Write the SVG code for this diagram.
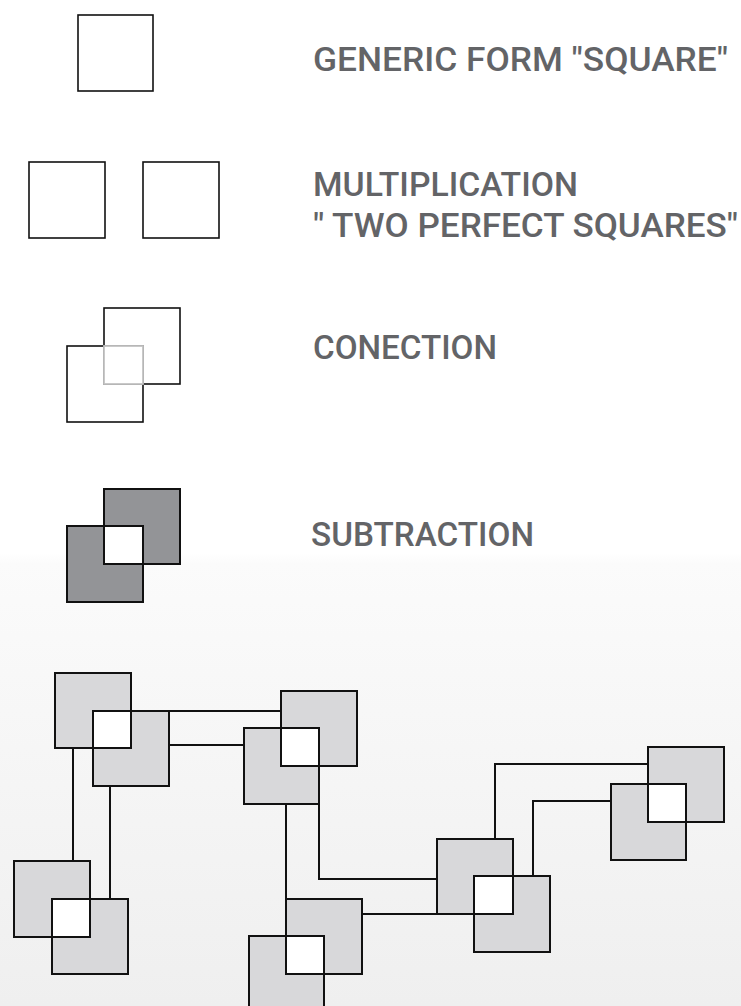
<svg xmlns="http://www.w3.org/2000/svg" width="741" height="1006" viewBox="0 0 741 1006">
<defs>
<linearGradient id="bg" x1="0" y1="0" x2="0" y2="1006" gradientUnits="userSpaceOnUse">
<stop offset="0" stop-color="#ffffff"/>
<stop offset="0.55" stop-color="#ffffff"/>
<stop offset="0.56" stop-color="#fbfbfb"/>
<stop offset="1" stop-color="#efefef"/>
</linearGradient>
</defs>
<style>
.lbl{font-family:Roboto,"Liberation Sans",sans-serif;font-size:33px;font-weight:500;fill:#636467}
.outline{fill:none;stroke:#111;stroke-width:1.6}
.sq{fill:#d8d8da;stroke:#111;stroke-width:2}
.hole{fill:#ffffff;stroke:#111;stroke-width:2}
.sub{fill:#939497;stroke:#111;stroke-width:2}
.conn{fill:none;stroke:#111;stroke-width:2}
</style>
<rect x="0" y="0" width="741" height="1006" fill="url(#bg)"/>

<g id="legend-generic">
<rect class="outline" x="78" y="15" width="75" height="76"/>
<text class="lbl" x="313" y="71" textLength="415" lengthAdjust="spacingAndGlyphs">GENERIC FORM "SQUARE"</text>
</g>

<g id="legend-multiplication">
<rect class="outline" x="29" y="162" width="76" height="76"/>
<rect class="outline" x="143" y="162" width="76" height="76"/>
<text class="lbl" x="313" y="196" textLength="265" lengthAdjust="spacingAndGlyphs">MULTIPLICATION</text>
<text class="lbl" x="313" y="237" textLength="425" lengthAdjust="spacingAndGlyphs">" TWO PERFECT SQUARES"</text>
</g>

<g id="legend-connection">
<rect class="outline" x="104" y="308" width="76" height="76"/>
<rect class="outline" x="67" y="346" width="76" height="76"/>
<rect x="104" y="346" width="39" height="38" fill="#ffffff" stroke="#c4c4c4" stroke-width="1.8"/>
<text class="lbl" x="313" y="359" textLength="184" lengthAdjust="spacingAndGlyphs">CONECTION</text>
</g>

<g id="legend-subtraction">
<rect class="sub" x="104" y="489" width="76" height="75"/>
<rect class="sub" x="67" y="526" width="76" height="76"/>
<rect class="hole" x="104" y="526" width="39" height="38"/>
<text class="lbl" x="311" y="546" textLength="223" lengthAdjust="spacingAndGlyphs">SUBTRACTION</text>
</g>

<g id="connectors">
<path class="conn" d="M169,711 H281"/>
<path class="conn" d="M169,745 H244"/>
<path class="conn" d="M73,748 V861"/>
<path class="conn" d="M110,786 V899"/>
<path class="conn" d="M286,804 V899"/>
<path class="conn" d="M319,804 V879 H437"/>
<path class="conn" d="M362,914 H437"/>
<path class="conn" d="M495,839 V764 H648"/>
<path class="conn" d="M533,876 V801 H611"/>
</g>

<g id="pair1">
<rect class="sq" x="55" y="673" width="76" height="75"/>
<rect class="sq" x="93" y="711" width="76" height="75"/>
<rect class="hole" x="93" y="711" width="38" height="37"/>
</g>
<g id="pair2">
<rect class="sq" x="281" y="691" width="76" height="75"/>
<rect class="sq" x="244" y="728" width="75" height="76"/>
<rect class="hole" x="281" y="728" width="38" height="38"/>
</g>
<g id="pair3">
<rect class="sq" x="14" y="861" width="76" height="76"/>
<rect class="sq" x="52" y="899" width="76" height="75"/>
<rect class="hole" x="52" y="899" width="38" height="38"/>
</g>
<g id="pair4">
<rect class="sq" x="286" y="899" width="76" height="75"/>
<rect class="sq" x="249" y="936" width="75" height="76"/>
<rect class="hole" x="286" y="936" width="38" height="38"/>
</g>
<g id="pair5">
<rect class="sq" x="437" y="839" width="76" height="75"/>
<rect class="sq" x="474" y="876" width="76" height="76"/>
<rect class="hole" x="474" y="876" width="39" height="38"/>
</g>
<g id="pair6">
<rect class="sq" x="648" y="747" width="76" height="75"/>
<rect class="sq" x="611" y="784" width="75" height="76"/>
<rect class="hole" x="648" y="784" width="38" height="38"/>
</g>
</svg>
